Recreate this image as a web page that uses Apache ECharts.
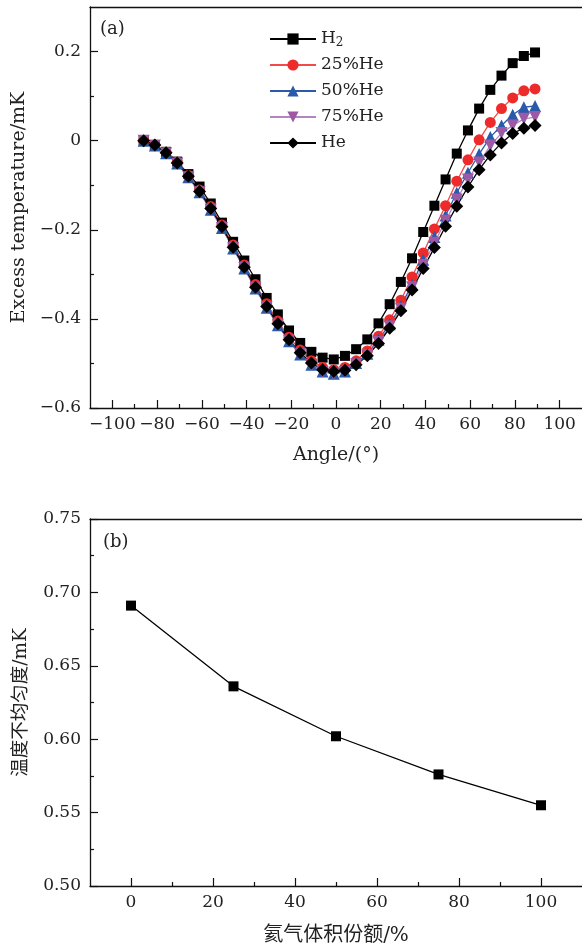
<!DOCTYPE html>
<html>
<head>
<meta charset="utf-8">
<script src="https://cdn.jsdelivr.net/npm/echarts@6/dist/echarts.min.js"></script>
<style>
html,body{margin:0;padding:0;background:#fff;}
#chart{width:582px;height:947px;}
</style>
</head>
<body>
<div id="chart"></div>
<script>
// ---- Data: panel (a) ----
const angles = [-86,-81,-76,-71,-66,-61,-56,-51,-46,-41,-36,-31,-26,-21,-16,-11,-6,-1,4,9,14,19,24,29,34,39,44,49,54,59,64,69,74,79,84,89];
const seriesNames = ['H2','25%He','50%He','75%He','He'];
const h2 = [0.000,-0.010,-0.025,-0.047,-0.075,-0.103,-0.141,-0.184,-0.227,-0.269,-0.311,-0.353,-0.390,-0.426,-0.454,-0.474,-0.487,-0.491,-0.483,-0.468,-0.446,-0.410,-0.367,-0.317,-0.264,-0.205,-0.146,-0.087,-0.029,0.023,0.072,0.114,0.146,0.174,0.190,0.198];
const he25 = [0.000,-0.010,-0.026,-0.048,-0.078,-0.111,-0.148,-0.189,-0.234,-0.279,-0.323,-0.366,-0.405,-0.441,-0.470,-0.494,-0.509,-0.514,-0.509,-0.494,-0.472,-0.439,-0.402,-0.358,-0.306,-0.252,-0.198,-0.146,-0.091,-0.043,0.002,0.041,0.072,0.096,0.112,0.116];
const he50 = [0.000,-0.011,-0.028,-0.051,-0.082,-0.116,-0.155,-0.196,-0.242,-0.287,-0.332,-0.375,-0.414,-0.450,-0.480,-0.503,-0.518,-0.523,-0.518,-0.499,-0.478,-0.447,-0.412,-0.371,-0.323,-0.267,-0.216,-0.168,-0.117,-0.072,-0.030,0.008,0.034,0.058,0.075,0.078];
const he75 = [0.000,-0.011,-0.028,-0.051,-0.082,-0.116,-0.155,-0.196,-0.241,-0.286,-0.331,-0.374,-0.413,-0.449,-0.479,-0.503,-0.519,-0.524,-0.519,-0.502,-0.481,-0.452,-0.417,-0.377,-0.329,-0.279,-0.229,-0.180,-0.132,-0.087,-0.049,-0.011,0.017,0.034,0.049,0.053];
const he100 = [0.000,-0.010,-0.027,-0.050,-0.080,-0.114,-0.152,-0.193,-0.239,-0.284,-0.329,-0.372,-0.411,-0.447,-0.476,-0.499,-0.514,-0.518,-0.515,-0.503,-0.483,-0.455,-0.421,-0.382,-0.335,-0.287,-0.240,-0.192,-0.147,-0.104,-0.065,-0.032,-0.005,0.016,0.028,0.034];
const xTicksA = [-100,-80,-60,-40,-20,0,20,40,60,80,100];
const xMinorA = [-90,-70,-50,-30,-10,10,30,50,70,90];
const yTicksA = [-0.6,-0.4,-0.2,0,0.2];
const yMinorA = [-0.5,-0.3,-0.1,0.1];

// ---- Data: panel (b) ----
const heFraction = [0,25,50,75,100];
const nonUniformity = [0.691,0.636,0.602,0.576,0.555];
const xTicksB = [0,20,40,60,80,100];
const xMinorB = [10,30,50,70,90];
const yTicksB = [0.50,0.55,0.60,0.65,0.70,0.75];
const yMinorB = [0.525,0.575,0.625,0.675,0.725];

const FONT = 'DejaVu Serif, Noto Sans CJK SC, serif';
const TXT = '#222';
const AX = '#111';
const minus = v => String(v).replace('-', '\u2212');

function zip(xs, ys){ return xs.map((x,i)=>[x, ys[i]]); }

function mainX(grid, min, max, ticks, name, fmt, gap, nsize){
  return {type:'value', gridIndex:grid, min, max, position:'bottom',
    axisLine:{show:true, onZero:false, lineStyle:{color:AX, width:1.3}},
    axisTick:{show:true, inside:true, length:8, customValues:ticks, lineStyle:{color:AX, width:1.2}},
    axisLabel:{show:true, customValues:ticks, formatter:fmt, fontFamily:FONT, fontSize:17, color:TXT, margin:8},
    splitLine:{show:false},
    name, nameLocation:'middle', nameGap:gap, nameTextStyle:{fontFamily:FONT, fontSize:nsize, color:TXT}};
}
function minorX(grid, min, max, ticks){
  return {type:'value', gridIndex:grid, min, max, position:'bottom',
    axisLine:{show:false, onZero:false}, axisTick:{show:true, inside:true, length:4, customValues:ticks, lineStyle:{color:AX, width:1.2}},
    axisLabel:{show:false}, splitLine:{show:false}};
}
function topX(grid, min, max){
  return {type:'value', gridIndex:grid, min, max, position:'top',
    axisLine:{show:true, onZero:false, lineStyle:{color:AX, width:1.3}}, axisTick:{show:false},
    axisLabel:{show:false}, splitLine:{show:false}};
}
function mainY(grid, min, max, ticks, name, fmt, gap, nsize){
  return {type:'value', gridIndex:grid, min, max, position:'left',
    axisLine:{show:true, onZero:false, lineStyle:{color:AX, width:1.3}},
    axisTick:{show:true, inside:true, length:8, customValues:ticks, lineStyle:{color:AX, width:1.2}},
    axisLabel:{show:true, customValues:ticks, formatter:fmt, fontFamily:FONT, fontSize:17, color:TXT, margin:9},
    splitLine:{show:false},
    name, nameLocation:'middle', nameRotate:90, nameGap:gap, nameTextStyle:{fontFamily:FONT, fontSize:nsize, color:TXT}};
}
function minorY(grid, min, max, ticks){
  return {type:'value', gridIndex:grid, min, max, position:'left',
    axisLine:{show:false, onZero:false}, axisTick:{show:true, inside:true, length:4, customValues:ticks, lineStyle:{color:AX, width:1.2}},
    axisLabel:{show:false}, splitLine:{show:false}};
}

const styles = [
  {symbol:'rect', size:10, rot:0, item:'#000000', line:'#000000'},
  {symbol:'circle', size:11, rot:0, item:'#ee2b2b', line:'#f04a4a'},
  {symbol:'triangle', size:12, rot:0, item:'#2a5aaa', line:'#2a5aaa'},
  {symbol:'triangle', size:12, rot:180, item:'#9c5aa6', line:'#b385c0'},
  {symbol:'diamond', size:13, rot:0, item:'#000000', line:'#000000'}
];
const seriesData = [h2, he25, he50, he75, he100];

const series = seriesNames.map((n,i)=>({
  name:n, type:'line', xAxisIndex:0, yAxisIndex:0,
  data: zip(angles, seriesData[i]),
  symbol: styles[i].symbol, symbolSize: styles[i].size, symbolRotate: styles[i].rot,
  itemStyle:{color: styles[i].item},
  lineStyle:{color: styles[i].line, width:1.3},
  emphasis:{disabled:true}, animation:false
}));
series.push({
  name:'b', type:'line', xAxisIndex:3, yAxisIndex:2,
  data: zip(heFraction, nonUniformity),
  symbol:'rect', symbolSize:10, itemStyle:{color:'#000'}, lineStyle:{color:'#000', width:1.3},
  emphasis:{disabled:true}, animation:false
});

const chart = echarts.init(document.getElementById('chart'), null, {renderer:'canvas'});
chart.setOption({
  backgroundColor:'#fff',
  animation:false,
  grid:[
    {left:90, top:7, width:496, height:401},
    {left:90, top:519, width:500, height:369}
  ],
  xAxis:[
    mainX(0,-110,110,xTicksA,'Angle/(°)', minus, 38, 19),
    minorX(0,-110,110,xMinorA),
    topX(0,-110,110),
    mainX(1,-10,110,xTicksB,'氦气体积份额/%', v=>String(v), 40, 20),
    minorX(1,-10,110,xMinorB),
    topX(1,-10,110)
  ],
  yAxis:[
    mainY(0,-0.6,0.3,yTicksA,'Excess temperature/mK', minus, 60, 19),
    minorY(0,-0.6,0.3,yMinorA),
    mainY(1,0.5,0.75,yTicksB,'温度不均匀度/mK', v=>v.toFixed(2), 60, 18.5),
    minorY(1,0.5,0.75,yMinorB)
  ],
  legend:{
    data: seriesNames,
    orient:'vertical', left:269, top:29, padding:0,
    itemWidth:46, itemHeight:14, itemGap:6,
    formatter: n => n === 'H2' ? '{n|H}{s|2}' : '{n|' + n + '}',
    textStyle:{fontFamily:FONT, fontSize:17, color:TXT,
      rich:{ n:{fontFamily:FONT, fontSize:17, color:TXT, lineHeight:20, height:20},
             s:{fontFamily:FONT, fontSize:12, color:TXT, lineHeight:11, verticalAlign:'bottom'} }},
    selectedMode:false
  },
  graphic:[
    {type:'text', left:100, top:20, style:{text:'(a)', fontFamily:FONT, fontSize:18, fill:TXT}},
    {type:'text', left:103, top:533, style:{text:'(b)', fontFamily:FONT, fontSize:18, fill:TXT}}
  ],
  series
});
</script>
</body>
</html>
